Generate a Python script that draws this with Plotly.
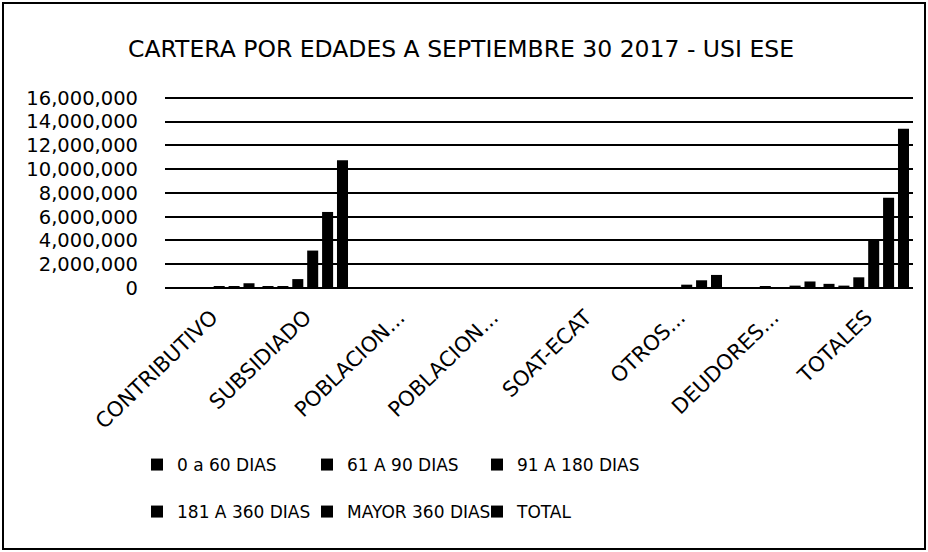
import plotly.graph_objects as go

# ---- data (in pesos) ----
categories = ["CONTRIBUTIVO", "SUBSIDIADO", "POBLACION 1", "POBLACION 2",
              "SOAT-ECAT", "OTROS", "DEUDORES", "TOTALES"]
tick_labels = ["CONTRIBUTIVO", "SUBSIDIADO", "POBLACION...", "POBLACION...",
               "SOAT-ECAT", "OTROS...", "DEUDORES...", "TOTALES"]

series_names = ["0 a 60 DIAS", "61 A 90 DIAS", "91 A 180 DIAS",
                "181 A 360 DIAS", "MAYOR 360 DIAS", "TOTAL"]

d_0_60 = [40000, 120000, 10000, 10000, 5000, 30000, 20000, 350000]
d_61_90 = [30000, 100000, 5000, 10000, 5000, 30000, 20000, 200000]
d_91_180 = [60000, 750000, 10000, 10000, 5000, 80000, 100000, 900000]
d_181_360 = [120000, 3150000, 10000, 15000, 5000, 280000, 50000, 3960000]
d_mayor_360 = [150000, 6400000, 15000, 20000, 5000, 650000, 200000, 7600000]
d_total = [400000, 10750000, 40000, 60000, 20000, 1100000, 550000, 13400000]

series_values = [d_0_60, d_61_90, d_91_180, d_181_360, d_mayor_360, d_total]

y_tickvals = [0, 2000000, 4000000, 6000000, 8000000, 10000000, 12000000,
              14000000, 16000000]
y_max = 16160000

title_text = "CARTERA POR EDADES A SEPTIEMBRE 30 2017 - USI ESE"

# ---- layout constants (pixels) ----
W, H = 928, 552
L, R, T, B = 165, 15, 96, 264
PW, PH = W - L - R, H - T - B
FONT = "DejaVu Sans"


def px_x(x):
    return (x - L) / PW


def px_y(y):
    return (H - B - y) / PH


fig = go.Figure()
for i, (name, vals) in enumerate(zip(series_names, series_values)):
    fig.add_trace(go.Bar(
        x=categories, y=vals, name=name,
        marker=dict(color="#000000", line=dict(width=0)),
        legend="legend" if i < 3 else "legend2",
    ))

legend_common = dict(
    orientation="h", xanchor="left", yanchor="top",
    entrywidth=125, entrywidthmode="pixels",
    font=dict(family=FONT, size=17, color="#000000"),
    bgcolor="rgba(0,0,0,0)", itemclick=False, itemdoubleclick=False,
    traceorder="normal",
)

fig.update_layout(
    width=W, height=H,
    margin=dict(l=L, r=R, t=T, b=B, autoexpand=False),
    paper_bgcolor="#ffffff", plot_bgcolor="#ffffff",
    font=dict(family=FONT, color="#000000"),
    title=dict(text=title_text, x=461 / W, xanchor="center",
               y=1 - 49 / H, yanchor="middle",
               font=dict(family=FONT, size=23.5, color="#000000")),
    barmode="group", bargap=0.044, bargroupgap=0.26,
    showlegend=True,
    legend=dict(x=px_x(137), y=px_y(447), **legend_common),
    legend2=dict(x=px_x(137), y=px_y(494), **legend_common),
    xaxis=dict(
        type="category", categoryorder="array", categoryarray=categories,
        tickmode="array", tickvals=categories, ticktext=tick_labels,
        tickangle=-44, tickfont=dict(family=FONT, size=21, color="#000000"),
        showgrid=False, showline=False, zeroline=False, ticks="",
        ticklabelstandoff=12,
    ),
    yaxis=dict(
        range=[0, y_max], tickmode="array", tickvals=y_tickvals,
        tickformat=",d", tickfont=dict(family=FONT, size=19.5, color="#000000"),
        showgrid=True, gridcolor="#000000", gridwidth=2,
        zeroline=True, zerolinecolor="#000000", zerolinewidth=2,
        showline=False, ticks="", ticklabelstandoff=26,
    ),
    shapes=[dict(type="rect", xref="paper", yref="paper",
                 x0=px_x(3), x1=px_x(925), y0=px_y(549), y1=px_y(3),
                 line=dict(color="#000000", width=2), layer="above")],
)

fig.write_html("out.html", config={"displayModeBar": False},
               post_script="document.body.style.margin='0px';")
